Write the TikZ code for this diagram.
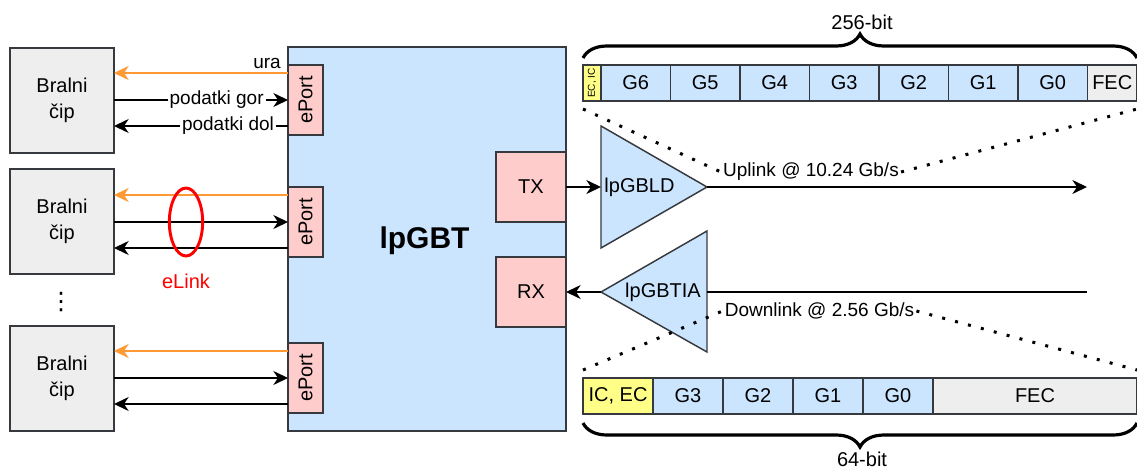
\documentclass[tikz,border=0pt]{standalone}
\usepackage{graphicx}
\usepackage{fontspec}
\setmainfont{Liberation Sans}
\newfontfamily\symfont{DejaVu Sans}
\usetikzlibrary{arrows.meta,shapes.geometric,decorations.pathreplacing}
\definecolor{boxline}{HTML}{36393D}
\definecolor{bluefill}{HTML}{CCE5FF}
\definecolor{pinkfill}{HTML}{FFCCCC}
\definecolor{grayfill}{HTML}{EEEEEE}
\definecolor{yellowfill}{HTML}{FFFF88}
\definecolor{clockline}{HTML}{FF9933}
\tikzset{
  box/.style={draw=boxline, line width=1.1pt, inner sep=0pt, outer sep=0pt, align=center},
  chip/.style={box, fill=grayfill, minimum width=78pt, minimum height=78.75pt},
  port/.style={box, fill=pinkfill, minimum width=26.25pt, minimum height=52.5pt},
  trx/.style={box, fill=pinkfill, minimum width=52.5pt, minimum height=52.5pt},
  cell/.style={box, fill=bluefill, minimum width=52.125pt, minimum height=27pt},
  cellb/.style={box, fill=bluefill, minimum width=52.5pt, minimum height=27pt},
  amp/.style={draw=boxline, fill=bluefill, line width=1.1pt},
  arr/.style={line width=1.1pt, -{Stealth[length=11pt,width=10.5pt,inset=3.5pt]}},
  clk/.style={arr, draw=clockline},
  lbl/.style={font=\fontsize{14.25}{17}\selectfont, inner sep=1.5pt},
  dotline/.style={line width=2.25pt, dash pattern=on 2.25pt off 7.75pt},
  brc/.style={decorate, decoration={brace, amplitude=18pt}, line width=2.4pt},
}
\begin{document}
\begin{tikzpicture}[x=0.75pt, y=-0.75pt, font=\fontsize{15}{19.5}\selectfont]
\useasboundingbox (0,0) rectangle (1137,471);
\node[chip] (c1) at (62,100.5) {Bralni\\čip};
\node[chip] (c2) at (62,221.5) {Bralni\\čip};
\node[chip] (c3) at (62,378.5) {Bralni\\čip};
\node[font=\symfont\fontsize{18}{18}\selectfont] (dots) at (61,302) {⋮};
\node[box, fill=bluefill, minimum width=208.5pt, minimum height=288pt] (gbt) at (427,239) {};
\node[font=\bfseries\fontsize{22.5}{27}\selectfont, anchor=base] (gbtname) at (424.5,248) {lpGBT};
\node[port] (e1) at (305.5,100) {\rotatebox{90}{ePort}};
\node[port] (e2) at (305.5,222) {\rotatebox{90}{ePort}};
\node[port] (e3) at (305.5,378) {\rotatebox{90}{ePort}};
\node[trx] (tx) at (531,187) {TX};
\node[trx] (rx) at (531,292) {RX};
\coordinate (k1) at ([yshift=-6pt]e1.north west);
\coordinate (k2) at ([yshift=-6pt]e2.north west);
\coordinate (k3) at ([yshift=-6pt]e3.north west);
\coordinate (d1) at ([yshift=-19.5pt]e1.west);
\coordinate (d2) at ([yshift=-19.5pt]e2.west);
\coordinate (d3) at ([yshift=-19.5pt]e3.west);
\draw[clk] (k1) -- (k1 -| c1.east);
\draw[arr] (e1.west -| c1.east) -- node[lbl, fill=white, pos=0.59] (gor) {podatki gor} (e1.west);
\draw[arr] (d1) -- node[lbl, fill=white, pos=0.345] (dol) {podatki dol} (d1 -| c1.east);
\node[lbl, anchor=base east] (ura) at (283,68) {ura};
\draw[clk] (k2) -- (k2 -| c2.east);
\draw[arr] (e2.west -| c2.east) -- (e2.west);
\draw[arr] (d2) -- (d2 -| c2.east);
\draw[clk] (k3) -- (k3 -| c3.east);
\draw[arr] (e3.west -| c3.east) -- (e3.west);
\draw[arr] (d3) -- (d3 -| c3.east);
\node[draw=red, line width=2.2pt, ellipse, minimum width=25pt, minimum height=51pt, inner sep=0pt] (ring) at (186,222) {};
\node[text=red] (elink) at (186,281) {eLink};
\draw[amp] (601,126) -- (601,248) -- (707,187) -- cycle;
\draw[amp] (707,231) -- (707,352) -- (601,292) -- cycle;
\node (ld) at (639.5,187) {lpGBLD};
\node (tia) at (663,292) {lpGBTIA};
\coordinate (ldin) at (601,187);
\coordinate (ldout) at (707,187);
\coordinate (tiain) at (707,292);
\coordinate (tiaout) at (601,292);
\coordinate (upend) at (1087,187);
\coordinate (dnend) at (1087,292);
\draw[arr] (tx.east) -- (ldin);
\draw[arr] (tiaout) -- (rx.east);
\draw[arr] (ldout) -- (upend);
\draw[line width=1.1pt] (dnend) -- (tiain);
\node[lbl] (up) at (811,172) {Uplink @ 10.24 Gb/s};
\node[lbl] (dn) at (819.5,311) {Downlink @ 2.56 Gb/s};
\node[box, fill=yellowfill, minimum width=13.5pt, minimum height=27pt] (ecic) at (592,83) {\rotatebox{90}{\fontsize{7.5}{9}\selectfont EC, IC}};
\node[cell] (g6) at (635.75,83) {G6};
\node[cell] (g5) at (705.25,83) {G5};
\node[cell] (g4) at (774.75,83) {G4};
\node[cell] (g3) at (844.25,83) {G3};
\node[cell] (g2) at (913.75,83) {G2};
\node[cell] (g1) at (983.25,83) {G1};
\node[cell] (g0) at (1052.75,83) {G0};
\node[box, fill=grayfill, minimum width=37.125pt, minimum height=27pt] (fect) at (1112.25,83) {FEC};
\node[box, fill=yellowfill, minimum width=52.5pt, minimum height=27pt] (icec) at (618,396) {IC, EC};
\node[cellb] (h3) at (688,396) {G3};
\node[cellb] (h2) at (758,396) {G2};
\node[cellb] (h1) at (828,396) {G1};
\node[cellb] (h0) at (898,396) {G0};
\node[box, fill=grayfill, minimum width=153pt, minimum height=27pt] (fecb) at (1035,396) {FEC};
\coordinate (tl) at (583,109);
\coordinate (tr) at (1137,109);
\coordinate (bl) at (583,370);
\coordinate (br) at (1137,370);
\draw[dotline] (tl) -- (up.west);
\draw[dotline] (up.east) -- (tr);
\draw[dotline] (bl) -- (dn.west);
\draw[dotline] (dn.east) -- (br);
\draw[brc] (583,58) -- (1137,58);
\draw[brc] (1137,423) -- (583,423);
\node (w256) at (862,22) {256-bit};
\node (w64) at (862,459) {64-bit};
\end{tikzpicture}
\end{document}
